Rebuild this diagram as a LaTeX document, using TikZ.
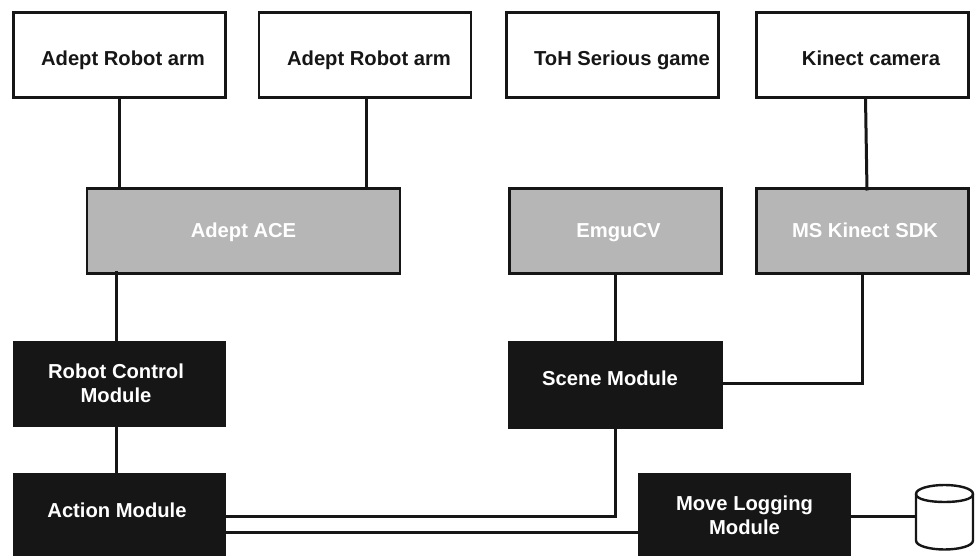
\documentclass[tikz,border=0pt]{standalone}
\usepackage{fontspec}
\setmainfont{Liberation Sans}
\usetikzlibrary{calc}
\definecolor{ink}{HTML}{161616}
\definecolor{midgrey}{HTML}{B5B6B5}
\tikzset{
  x=0.75pt,y=-0.75pt,
  boxbase/.style={minimum width=#1*0.75pt,inner sep=0pt,outer sep=0pt,line width=2.6pt*0.75},
  whitebox/.style={boxbase=#1,draw=ink,fill=white,minimum height=63.5pt},
  greybox/.style={boxbase=#1,draw=ink,fill=midgrey,minimum height=63.5pt},
  blackbox/.style={boxbase=#1,fill=ink,minimum height=64.5pt},
  wire/.style={draw=ink,line width=3pt*0.75},
  lab/.style={font=\fontsize{15.15pt}{18pt}\selectfont\bfseries,align=center,inner sep=0pt},
  darklab/.style={lab,text=ink},
  lightlab/.style={lab,text=white}
}
\begin{document}
\begin{tikzpicture}
\useasboundingbox (0,0) rectangle (976,556);
\node[whitebox=212] (arma) at (119.5,55) {};
\node[whitebox=212] (armb) at (365,55) {};
\node[whitebox=212] (toh) at (612.5,55) {};
\node[whitebox=212] (kinect) at (862.5,55) {};
\node[greybox=313] (ace) at (243.5,231) {};
\node[greybox=212] (emgu) at (615.5,231) {};
\node[greybox=212] (sdk) at (862.5,231) {};
\node[blackbox=213] (robot) at (119.5,384) {};
\node[blackbox=215,minimum height=66pt] (scene) at (615.5,385) {};
\node[blackbox=213,minimum height=62.25pt] (action) at (119.5,514.5) {};
\node[blackbox=213,minimum height=62.25pt] (logging) at (744.5,514.5) {};
% text
\node[darklab,anchor=base] (tarma) at (123,65.5) {Adept Robot arm};
\node[darklab,anchor=base] (tarmb) at (369,65.5) {Adept Robot arm};
\node[darklab,anchor=base] (ttoh) at (622,65.5) {ToH Serious game};
\node[darklab,anchor=base] (tkin) at (871,65.5) {Kinect camera};
\node[lightlab,anchor=base] (tace) at (243.5,238) {Adept ACE};
\node[lightlab,anchor=base] (temgu) at (618.5,238) {EmguCV};
\node[lightlab,anchor=base] (tsdk) at (865,238) {MS Kinect SDK};
\node[lightlab] (trobot) at (116,383) {Robot Control\\Module};
\node[lightlab,anchor=base] (tscene) at (610,386) {Scene Module};
\node[lightlab,anchor=base] (taction) at (117,517) {Action Module};
\node[lightlab] (tlog) at (744.5,515) {Move Logging\\Module};
% anchor points for the wires
\coordinate (dbtop) at (916,501);
\coordinate (aceL) at (116.6,271);
\coordinate (kinIn) at (867,190.5);
% connectors
\draw[wire] (arma.south) -- (arma.south |- kinIn);
\draw[wire] (armb.south) ++(1.5,0) coordinate (armbOut) -- (armbOut |- kinIn);
\draw[wire] (kinect.south) ++(3,0) -- (kinIn);
\draw[wire] (aceL) -- (aceL |- robot.north);
\draw[wire] (robot.south -| aceL) -- (action.north -| aceL);
\draw[wire] (emgu.south) -- (scene.north);
\draw[wire,line join=miter] (sdk.south) -- (sdk.south |- 0,384) -- (scene.east |- 0,384);
\draw[wire,line join=miter] (scene.south) -- (scene.south |- 0,516) -- (action.east |- 0,516);
\draw[wire] (action.east |- 0,532) -- (logging.west |- 0,532);
\draw[wire] (logging.east |- 0,516) -- (dbtop |- 0,516);
% database
\draw[draw=ink,fill=white,line width=2.4pt*0.75] (916,494) -- (916,540.5)
  .. controls (916,546) and (930,549.5) .. (944.5,549.5) .. controls (959,549.5) and (973,546) .. (973,540.5) -- (973,494)
  .. controls (973,488.5) and (959,485) .. (944.5,485) .. controls (930,485) and (916,488.5) .. (916,494) -- cycle;
\draw[draw=ink,line width=2.4pt*0.75] (916,494) .. controls (916,499.5) and (930,502) .. (944.5,502) .. controls (959,502) and (973,499.5) .. (973,494);
\end{tikzpicture}
\end{document}
